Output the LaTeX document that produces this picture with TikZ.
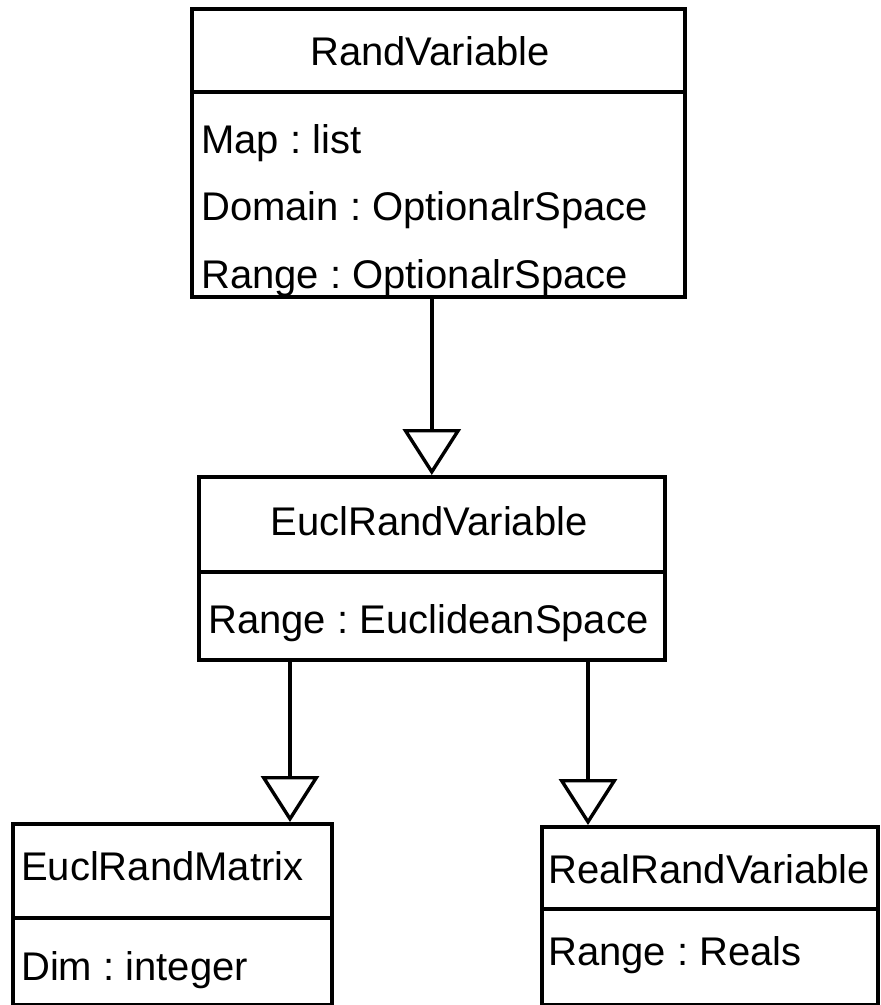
\documentclass[tikz,border=0pt]{standalone}
\usepackage{fontspec}
\setmainfont{Liberation Sans}
\frenchspacing
\usetikzlibrary{arrows.meta}
\tikzset{
  classbox/.style={draw, line width=3.6pt, inner sep=0pt, anchor=north west},
  attr/.style={anchor=base west, inner sep=0pt},
  classname/.style={anchor=base, inner sep=0pt},
  inherit/.style={line width=3.4pt, -{Triangle[open, width=58pt, length=46pt]}}
}
\begin{document}
\begin{tikzpicture}[x=1pt, y=-1pt, font=\fontsize{40}{48}\selectfont]
      \useasboundingbox (0,0) rectangle (881,1005);
      % RandVariable
      \node[classbox, minimum width=493pt, minimum height=83pt] (rv) at (190,7) {};
      \node[classbox, minimum width=493pt, minimum height=205pt] (rvattr) at (190,90) {};
      \node[classname] (rvname) at (430,65) {RandVariable};
      \node[attr] (rvmap) at (201,153) {Map : list};
      \node[attr] (rvdomain) at (201,220) {Domain : OptionalrSpace};
      \node[attr] (rvrange) at (201,288) {Range : OptionalrSpace};
      % EuclRandVariable
      \node[classbox, minimum width=466pt, minimum height=95pt] (erv) at (197,475) {};
      \node[classbox, minimum width=466pt, minimum height=88pt] (ervattr) at (197,570) {};
      \node[classname] (ervname) at (429,535) {EuclRandVariable};
      \node[attr] (ervrange) at (208,633) {Range : EuclideanSpace};
      % EuclRandMatrix
      \node[classbox, minimum width=319pt, minimum height=94pt] (erm) at (11,822) {};
      \node[classbox, minimum width=319pt, minimum height=87pt] (ermattr) at (11,916) {};
      \node[attr] (ermname) at (21,880) {EuclRandMatrix};
      \node[attr] (ermdim) at (21,980) {Dim : integer};
      % RealRandVariable
      \node[classbox, minimum width=336pt, minimum height=82pt] (rrv) at (540,825) {};
      \node[classbox, minimum width=336pt, minimum height=96pt] (rrvattr) at (540,907) {};
      \node[attr] (rrvname) at (548,883) {RealRandVariable};
      \node[attr] (rrvrange) at (548,965) {Range : Reals};
      \begin{scope}[inherit]
        \draw (erv.north |- rvattr.south) to (erv.north);
        \draw ([xshift=93pt]ervattr.south west) to ([xshift=93pt]ervattr.south west |- erm.north);
        \draw ([xshift=391pt]ervattr.south west) to ([xshift=391pt]ervattr.south west |- rrv.north);
      \end{scope}
    \end{tikzpicture}
\end{document}
